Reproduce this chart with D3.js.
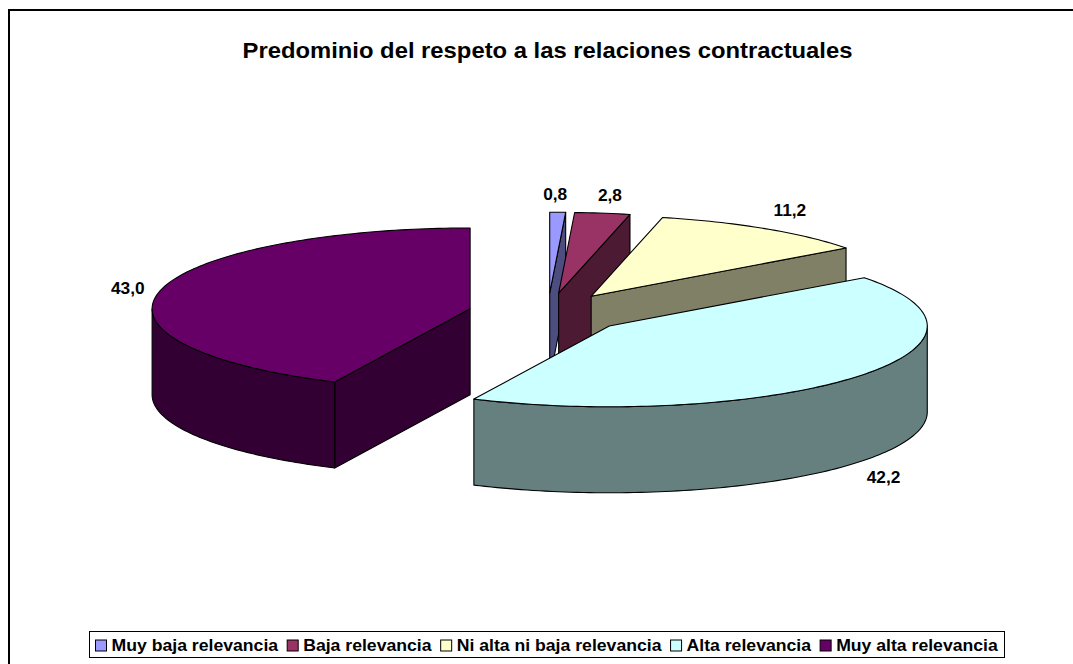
<!DOCTYPE html>
<html><head><meta charset="utf-8">
<script src="https://cdn.jsdelivr.net/npm/d3@7"></script>
<style>html,body{margin:0;padding:0;background:#fff}svg{display:block}text{font-family:"Liberation Sans",Arial,sans-serif;font-weight:bold;fill:#000}</style>
</head><body><svg id="c" width="1073" height="664"></svg>
<script>
const titleText = "Predominio del respeto a las relaciones contractuales";
const categories = ["Muy baja relevancia","Baja relevancia","Ni alta ni baja relevancia","Alta relevancia","Muy alta relevancia"];
const values = [0.8,2.8,11.2,42.2,43.0];
const valueLabels = ["0,8","2,8","11,2","42,2","43,0"];
const topColors = ["#9999FF","#993366","#FFFFCC","#CCFFFF","#660066"];
const sideColors = ["#4D4D80","#4D1A33","#808066","#668080","#330033"];
const labelNudges = [[-2.5,-18],[7.5,-18],[25,-19],[28,100],[-32,-3]];

const W=1073,H=664, cx=547.7, cy=313.2, rx=318, ry=80.8, depth=86, explode=0.25;
const svg=d3.select("#c");
const stretch=(sel,k)=>{const len=sel.node().getComputedTextLength()*k;sel.attr("textLength",len).attr("lengthAdjust","spacingAndGlyphs");return len;};
svg.append("path").attr("d",`M${W},10H9V${H}`).attr("fill","none").attr("stroke","#000").attr("stroke-width",2);
stretch(svg.append("text").attr("x",547.5).attr("y",58).attr("text-anchor","middle").attr("font-size",22.5).text(titleText),1.058);

const pie=d3.pie().sort(null).startAngle(0).endAngle(2*Math.PI)(values);
const line=d3.line();
const px=(o,a)=>[o[0]+rx*Math.sin(a), o[1]-ry*Math.cos(a)];
const arcPts=(o,a0,a1)=>{const n=Math.max(2,Math.ceil((a1-a0)/0.02));return d3.range(n+1).map(i=>px(o,a0+(a1-a0)*i/n));};
const down=p=>[p[0],p[1]+depth];

const g=svg.append("g").attr("stroke","#000").attr("stroke-width",1.1).attr("stroke-linejoin","round");
pie.forEach((s,i)=>{
  const mid=(s.startAngle+s.endAngle)/2;
  const o=[cx+explode*rx*Math.sin(mid), cy-explode*ry*Math.cos(mid)];
  const side=sideColors[i];
  const face=pts=>g.append("path").attr("d",line(pts)+"Z").attr("fill",side);
  if(Math.sin(s.startAngle)<-1e-6){const e=px(o,s.startAngle);face([o,e,down(e),down(o)]);}
  if(Math.sin(s.endAngle)>1e-6){const e=px(o,s.endAngle);face([o,e,down(e),down(o)]);}
  const a0=Math.max(s.startAngle,Math.PI/2), a1=Math.min(s.endAngle,3*Math.PI/2);
  if(a1>a0){const top=arcPts(o,a0,a1);face(top.concat(top.slice().reverse().map(down)));}
  g.append("path").attr("d",line([o].concat(arcPts(o,s.startAngle,s.endAngle)))+"Z").attr("fill",topColors[i]);
  const lp=px(o,mid);
  svg.append("text").datum(valueLabels[i]).attr("x",lp[0]+labelNudges[i][0]).attr("y",lp[1]+labelNudges[i][1]+6)
    .attr("text-anchor","middle").attr("font-size",17.3).text(d=>d);
});

const leg=svg.append("g");
leg.append("rect").attr("x",89.5).attr("y",631.5).attr("width",915).attr("height",26).attr("fill","#fff").attr("stroke","#000").attr("stroke-width",1);
let lx=95.5;
categories.forEach((c,i)=>{
  leg.append("rect").attr("x",lx).attr("y",640).attr("width",11).attr("height",11).attr("fill",topColors[i]).attr("stroke","#000").attr("stroke-width",1);
  const t=leg.append("text").attr("x",lx+16).attr("y",651).attr("font-size",17);
  t.text(c);
  lx+=16+stretch(t,1.037)+9.1;
});
</script></body></html>
